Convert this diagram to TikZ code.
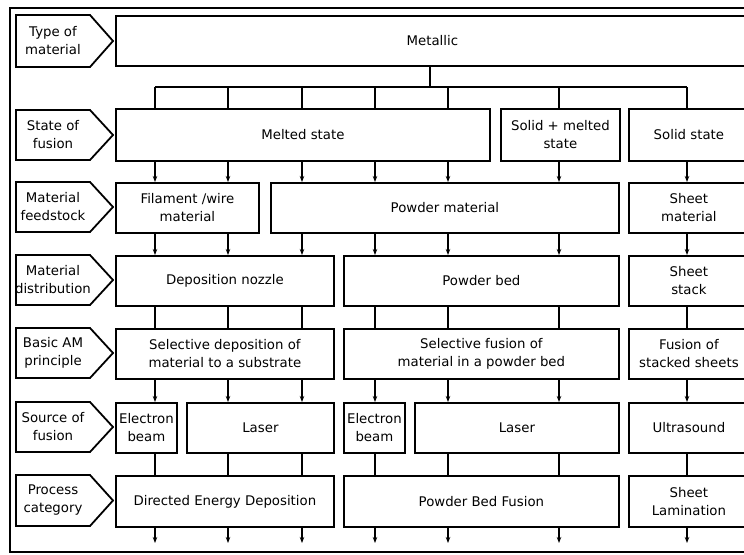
\documentclass[tikz,border=0pt]{standalone}
\usepackage{fontspec}
\setmainfont{DejaVu Sans}
\usetikzlibrary{arrows.meta}

% Row label: pentagon tag with its text node
\newcommand\rowtag[4]{% #1 name, #2 top y, #3 bottom y, #4 text
  \draw[tagline] (16,#2) -- (90,#2) -- (113,{(#2+#3)/2}) -- (90,#3) -- (16,#3) -- cycle;
  \node[tagtext] (#1) at (53,{(#2+#3)/2}) {#4};}

\begin{document}
\begin{tikzpicture}[x=1pt,y=-1pt,
  txt/.style={font=\fontsize{13.3}{18}\selectfont, align=center},
  box/.style={txt, draw, line width=1.8pt, anchor=north west, inner sep=1pt},
  tagline/.style={line width=1.8pt, line join=miter},
  tagtext/.style={txt, inner sep=0pt},
  link/.style={line width=1.6pt},
  flow/.style={link, -{Stealth[length=6pt,width=4.5pt]}},
  frame/.style={line width=2pt}]

\useasboundingbox (0,0) rectangle (744,554);
\draw[frame] (10,8) rectangle (770,552);

% column positions of the connectors
\foreach \i/\x in {1/155,2/228,3/302,4/375,5/448,6/559,7/687}
  \coordinate (k\i) at (\x,0);
\coordinate (bus) at (430,87);

% row labels
\rowtag{t1}{15}{67}{Type of\\material}
\rowtag{t2}{110}{160}{State of\\fusion}
\rowtag{t3}{182}{232}{Material\\feedstock}
\rowtag{t4}{255}{305}{Material\\distribution}
\rowtag{t5}{328}{378}{Basic AM\\principle}
\rowtag{t6}{402}{452}{Source of\\fusion}
\rowtag{t7}{475}{526}{Process\\category}

% row 1
\node[box, minimum width=633, minimum height=50] (metal) at (115,15) {Metallic};
% row 2
\node[box, minimum width=374, minimum height=52] (melt) at (115,108) {Melted state};
\node[box, minimum width=119, minimum height=52] (solmelt) at (500,108) {Solid + melted\\state};
\node[box, minimum width=120, minimum height=52] (solid) at (628,108) {Solid state};
% row 3
\node[box, minimum width=143, minimum height=50] (fil) at (115,182) {Filament /wire\\material};
\node[box, minimum width=348, minimum height=50] (powm) at (270,182) {Powder material};
\node[box, minimum width=120, minimum height=50] (sheetm) at (628,182) {Sheet\\material};
% row 4
\node[box, minimum width=218, minimum height=50] (nozzle) at (115,255) {Deposition nozzle};
\node[box, minimum width=275, minimum height=50] (bed) at (343,255) {Powder bed};
\node[box, minimum width=120, minimum height=50] (stack) at (628,255) {Sheet\\stack};
% row 5
\node[box, minimum width=218, minimum height=50] (seldep) at (115,328) {Selective deposition of\\material to a substrate};
\node[box, minimum width=275, minimum height=50] (selfus) at (343,328) {Selective fusion of\\material in a powder bed};
\node[box, minimum width=120, minimum height=50] (fusst) at (628,328) {Fusion of\\stacked sheets};
% row 6
\node[box, minimum width=61, minimum height=50] (eb1) at (115,402) {Electron\\beam};
\node[box, minimum width=147, minimum height=50] (las1) at (186,402) {Laser};
\node[box, minimum width=61, minimum height=50] (eb2) at (343,402) {Electron\\beam};
\node[box, minimum width=204, minimum height=50] (las2) at (414,402) {Laser};
\node[box, minimum width=120, minimum height=50] (ultra) at (628,402) {Ultrasound};
% row 7
\node[box, minimum width=218, minimum height=51] (ded) at (115,475) {Directed Energy Deposition};
\node[box, minimum width=275, minimum height=51] (pbf) at (343,475) {Powder Bed Fusion};
\node[box, minimum width=120, minimum height=51] (sl) at (628,475) {Sheet\\Lamination};

% branching from the material type
\draw[link] (metal.south -| bus) -- (bus);
\draw[link] (bus -| k1) -- (bus -| k7);
\foreach \k/\b in {1/melt,2/melt,3/melt,4/melt,5/melt,6/solmelt,7/solid}
  \draw[link] (bus -| k\k) -- (\b.north -| k\k);

% state of fusion -> feedstock
\foreach \k/\a/\b in {1/melt/fil,2/melt/fil,3/melt/powm,4/melt/powm,5/melt/powm,6/solmelt/powm,7/solid/sheetm}
  \draw[flow] (\a.south -| k\k) -- (\b.north -| k\k);
% feedstock -> distribution
\foreach \k/\a/\b in {1/fil/nozzle,2/fil/nozzle,3/powm/nozzle,4/powm/bed,5/powm/bed,6/powm/bed,7/sheetm/stack}
  \draw[flow] (\a.south -| k\k) -- (\b.north -| k\k);
% distribution -> principle
\foreach \k/\a/\b in {1/nozzle/seldep,2/nozzle/seldep,3/nozzle/seldep,4/bed/selfus,5/bed/selfus,6/bed/selfus,7/stack/fusst}
  \draw[link] (\a.south -| k\k) -- (\b.north -| k\k);
% principle -> source of fusion
\foreach \k/\a/\b in {1/seldep/eb1,2/seldep/las1,3/seldep/las1,4/selfus/eb2,5/selfus/las2,6/selfus/las2,7/fusst/ultra}
  \draw[flow] (\a.south -| k\k) -- (\b.north -| k\k);
% source of fusion -> process category
\foreach \k/\a/\b in {1/eb1/ded,2/las1/ded,3/las1/ded,4/eb2/pbf,5/las2/pbf,6/las2/pbf,7/ultra/sl}
  \draw[link] (\a.south -| k\k) -- (\b.north -| k\k);
% outgoing arrows
\foreach \k/\a in {1/ded,2/ded,3/ded,4/pbf,5/pbf,6/pbf,7/sl}{
  \coordinate (out\k) at (k\k |- 0,543);
  \draw[flow] (\a.south -| k\k) -- (out\k);
}
\end{tikzpicture}
\end{document}
